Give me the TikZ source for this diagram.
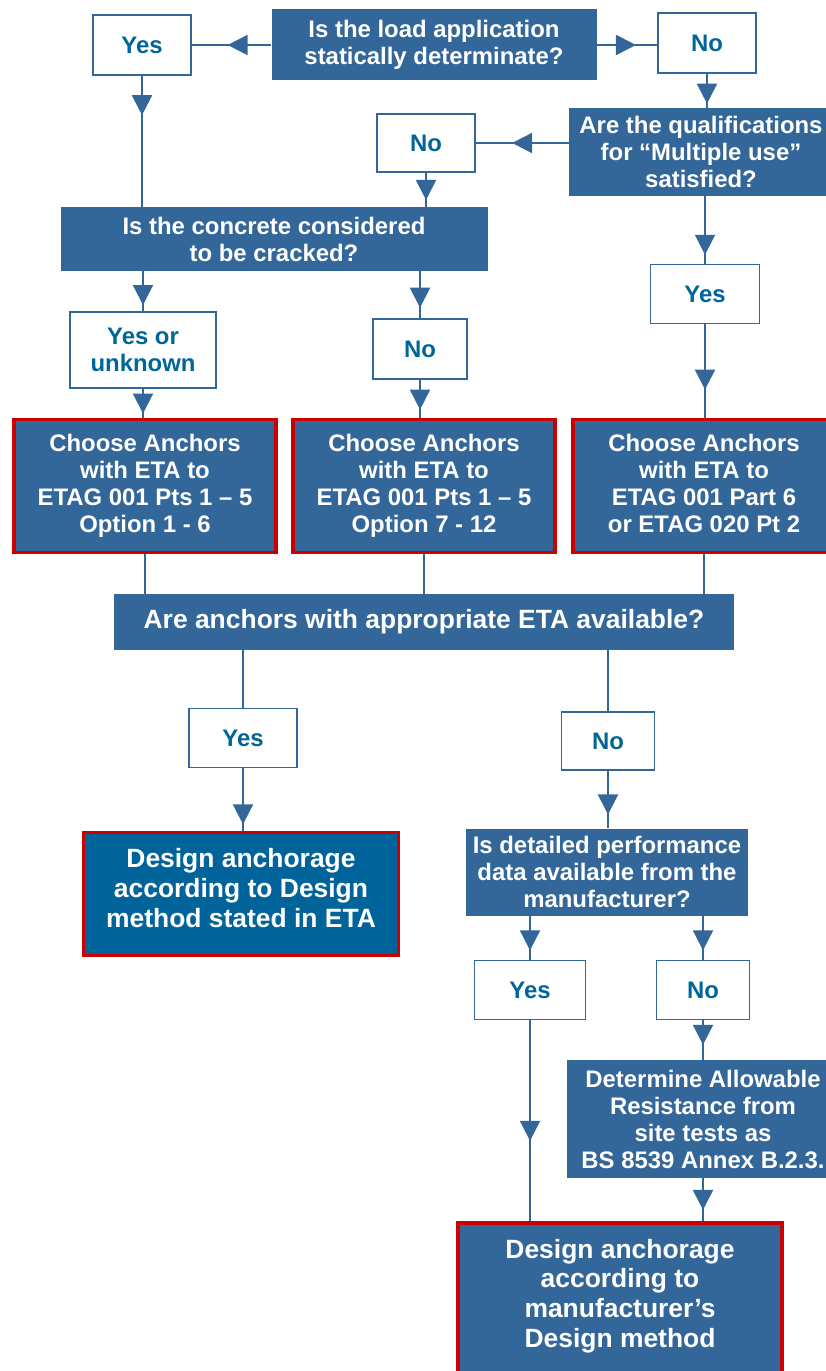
\documentclass[tikz,border=0pt]{standalone}
\usepackage{fontspec}
\setmainfont{Liberation Sans}
\usetikzlibrary{arrows.meta,decorations.markings}
\definecolor{boxblue}{RGB}{51,102,153}
\definecolor{endblue}{RGB}{0,99,153}
\definecolor{txtblue}{RGB}{0,102,153}
\definecolor{edgered}{RGB}{204,0,0}

\begin{document}
\begin{tikzpicture}[x=0.025cm, y=-0.025cm,
        every node/.style={align=center, inner sep=0pt, font=\bfseries\fontsize{17}{19.2}\selectfont},
        question/.style={fill=boxblue, text=white},
        answer/.style={draw=boxblue, line width=1.4pt, fill=white, text=txtblue},
        result/.style={question, draw=edgered, line width=2.8pt},
        big/.style={font=\bfseries\fontsize{18.8}{21.2}\selectfont},
        sz/.style 2 args={minimum width=#1*0.025cm, minimum height=#2*0.025cm},
        link/.style={draw=boxblue, line width=1.4pt},
        flow/.style={link, postaction={decorate}, decoration={markings,
            mark=at position #1 with {\arrow[boxblue]{Triangle[length=0.5cm, width=0.5cm]}}}},
        flow/.default=0.8
    ]
    \useasboundingbox (0,0) rectangle (826,1371);

    % Nodes
    \node (qload) [question, sz={325}{71}] at (434,45) {Is the load application\\statically determinate?};
    \node (yesload) [answer, sz={98}{60}] at (142,45) {Yes};
    \node (noload) [answer, sz={98}{60}] at (707,43) {No};

    \node (qmulti) [question, sz={264}{88}] at (701,152) {Are the qualifications\\for “Multiple use”\\satisfied?};
    \node (nomulti) [answer, sz={98}{58}] at (426,143) {No};
    \node (yesmulti) [answer, sz={109}{59}] at (705,294) {Yes};

    \node (qcrack) [question, sz={427}{64}] at (274,239) {Is the concrete considered\\to be cracked?};
    \node (yesunk) [answer, sz={146}{76}] at (143,350) {Yes or\\unknown};
    \node (nocrack) [answer, sz={94}{60}] at (420,349) {No};

    \node (choose1) [result, sz={262}{133}] at (145,486) {Choose Anchors\\with ETA to\\ETAG 001 Pts 1 – 5\\Option 1 - 6};
    \node (choose2) [result, sz={262}{133}] at (424,486) {Choose Anchors\\with ETA to\\ETAG 001 Pts 1 – 5\\Option 7 - 12};
    \node (choose3) [result, sz={262}{133}, text depth=0.13cm] at (704,486) {Choose Anchors\\with ETA to\\ETAG 001 Part 6\\or ETAG 020 Pt 2};

    \node (qeta) [question, big, sz={620}{56}] at (424,622) {Are anchors with appropriate ETA available?};
    \node (yeseta) [answer, sz={108}{59}] at (243,738) {Yes};
    \node (noeta) [answer, sz={93}{58}] at (608,741) {No};

    \node (design1) [result, big, fill=endblue, sz={315}{123}, text depth=0.3cm] at (241,894) {Design anchorage\\according to Design\\method stated in ETA};

    \node (qdata) [question, sz={282}{87}] at (607,872) {Is detailed performance\\data available from the\\manufacturer?};
    \node (yesdata) [answer, sz={111}{59}] at (530,990) {Yes};
    \node (nodata) [answer, sz={93}{59}] at (703,990) {No};

    \node (qsite) [question, sz={272}{118}] at (703,1119) {Determine Allowable\\Resistance from\\site tests as\\BS 8539 Annex B.2.3.};

    \node (design2) [result, big, sz={324}{156}, text depth=0.39cm] at (620,1301) {Design anchorage\\according to\\manufacturer’s\\Design method};

    % Edges
    \draw[flow=0.55] (qload.west) -- (yesload.east);
    \draw[flow=0.65] (qload.east) -- (qload.east -| noload.west);
    \draw[flow=0.3] (yesload) -- (yesload |- qcrack.north);
    \draw[flow=0.88] (noload) -- (noload |- qmulti.north);
    \draw[flow=0.61] (qmulti.west |- nomulti) -- (nomulti.east);
    \draw[flow=0.8] (nomulti) -- (nomulti |- qcrack.north);
    \draw[flow=0.87] (qmulti.south -| yesmulti) -- (yesmulti);
    \draw[flow=0.85] (qcrack.south -| yesunk) -- (yesunk);
    \draw[flow=0.78] (qcrack.south -| nocrack) -- (nocrack);
    \draw[flow=0.86] (yesunk) -- (yesunk |- choose1.north);
    \draw[flow=0.79] (nocrack) -- (nocrack |- choose2.north);
    \draw[flow=0.7] (yesmulti) -- (yesmulti |- choose3.north);

    \draw[link] (choose1) -- (choose1 |- qeta.north);
    \draw[link] (choose2) -- (choose2 |- qeta.north);
    \draw[link] (choose3) -- (choose3 |- qeta.north);
    \draw[link] (qeta.south -| yeseta) -- (yeseta);
    \draw[link] (qeta.south -| noeta) -- (noeta);

    \draw[flow=0.9] (yeseta) -- (yeseta |- design1.north);
    \draw[flow=0.76] (noeta) -- (noeta |- qdata.north);
    \draw[flow=0.79] (qdata.south -| yesdata) -- (yesdata);
    \draw[flow=0.79] (qdata.south -| nodata) -- (nodata);
    \draw[flow=0.62] (nodata) -- (nodata |- qsite.north);
    \draw[flow=0.6] (yesdata) -- (yesdata |- design2.north);
    \draw[flow=0.74] (qsite) -- (qsite |- design2.north);

\end{tikzpicture}
\end{document}
